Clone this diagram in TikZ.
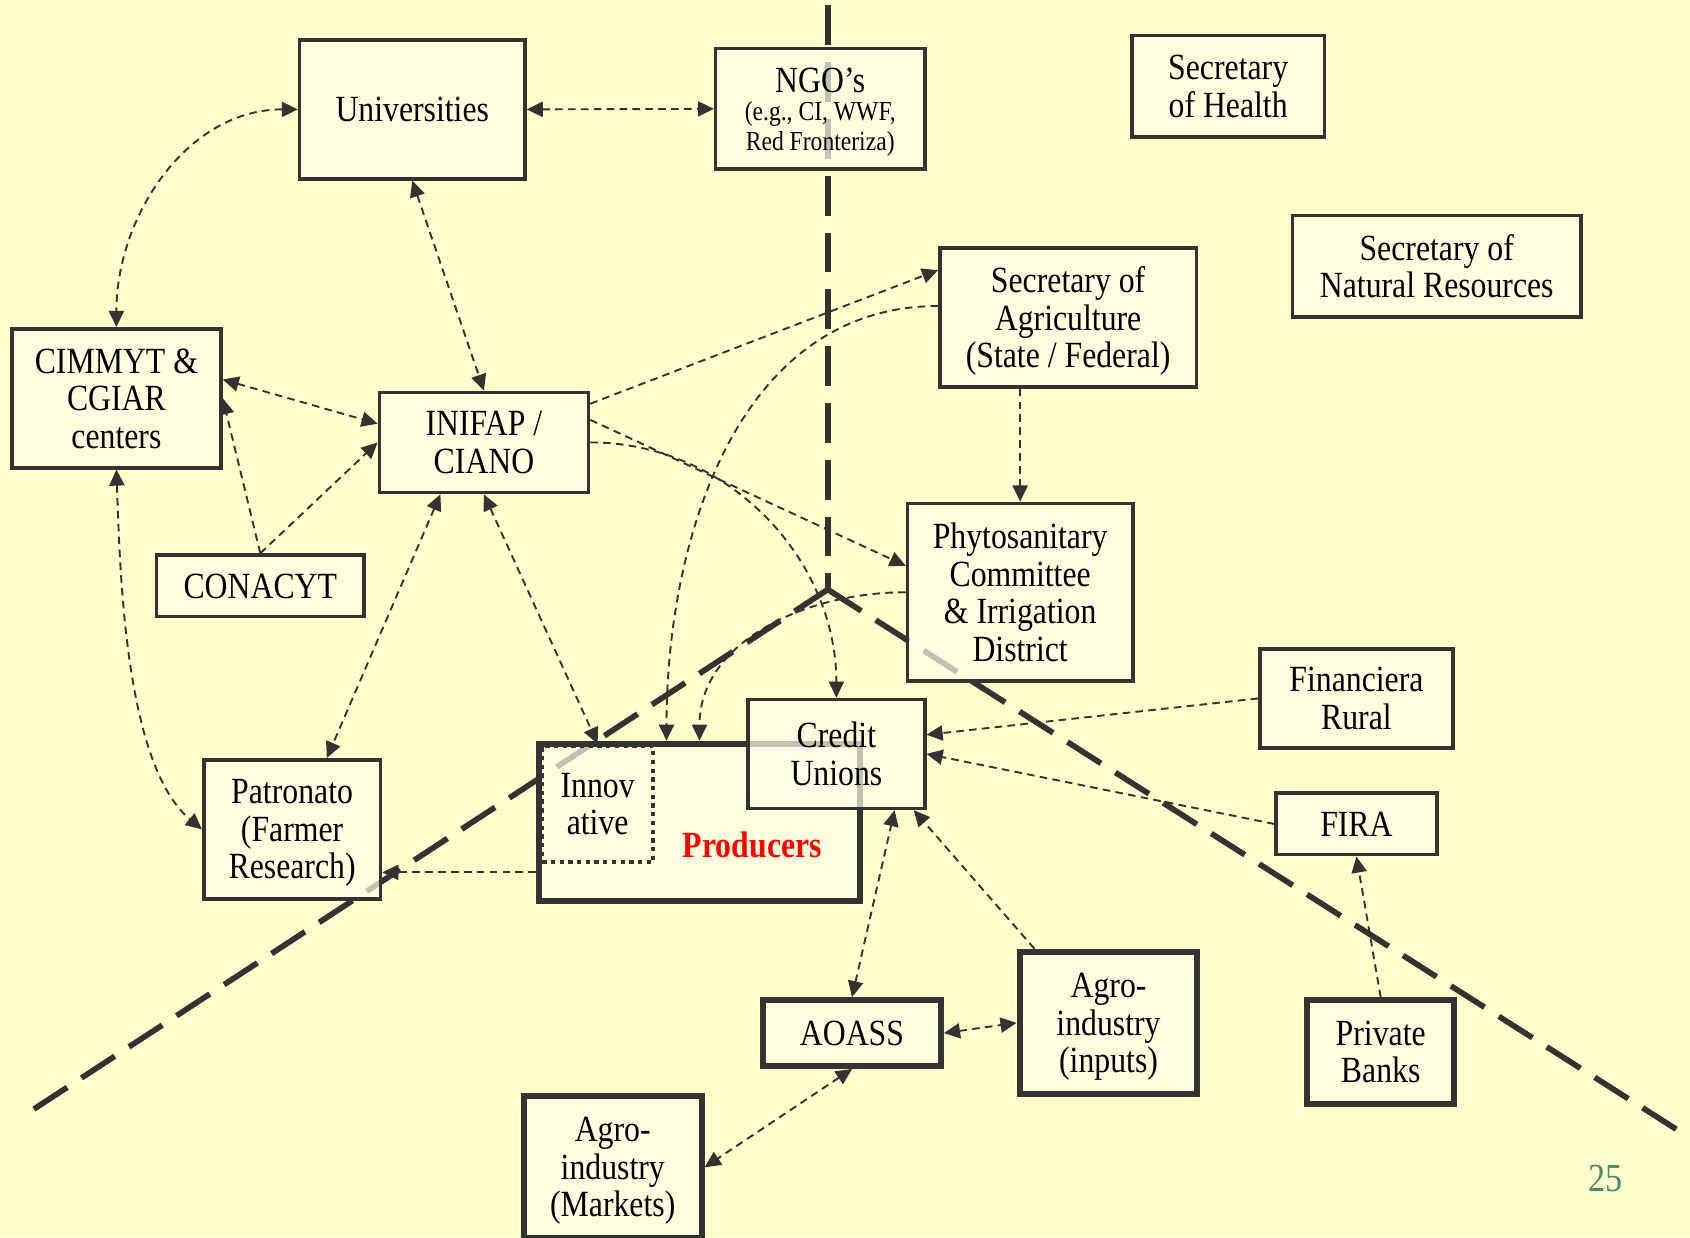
\documentclass[tikz,border=0pt]{standalone}
\usepackage{fontspec}
\setmainfont{Liberation Serif}[FakeStretch=0.86]
\usetikzlibrary{arrows.meta}
\definecolor{slidebg}{RGB}{255,255,204}
\definecolor{boxfill}{RGB}{255,255,232}
\definecolor{inkgray}{RGB}{51,51,51}
\definecolor{pagegreen}{RGB}{74,139,108}

\begin{document}
\begin{tikzpicture}[x=0.02cm, y=-0.02cm,
	actor/.style={draw=inkgray, line width=1.9pt, fill=boxfill, fill opacity=0.7, text opacity=1, align=center, inner sep=0pt, text depth=0pt, font=\fontsize{19.5}{19.8}\selectfont},
	heavy/.style={actor, line width=3.2pt},
	oneway/.style={inkgray, line width=1pt, dash pattern=on 4pt off 2.8pt, -{Triangle[length=8.5pt,width=8pt]}},
	twoway/.style={oneway, {Triangle[length=8.5pt,width=8pt]}-{Triangle[length=8.5pt,width=8pt]}},
	divide/.style={inkgray, line width=3pt, dash pattern=on 21pt off 9pt}]

	\useasboundingbox (0,0) rectangle (1568,1148);
	\fill[slidebg] (0,0) rectangle (1568,1148);

	\draw[divide] (768,5) -- (768,547);
	\draw[divide] (768,547) -- (30,1030);
	\draw[divide] (768,547) -- (1562,1052);

	\node[actor, minimum width=4.18cm, minimum height=2.58cm] (uni) at (382.5,101.5) {Universities};
	\node[actor, minimum width=3.88cm, minimum height=2.24cm] (ngo) at (761,101) {NGO’s\\[-5pt]{\fontsize{14.5}{15}\selectfont (e.g., CI, WWF,}\\[-4pt]{\fontsize{14.5}{15}\selectfont Red Fronteriza)}};
	\node[actor, minimum width=3.58cm, minimum height=1.88cm] (health) at (1139.5,80) {Secretary\\of Health};
	\node[actor, minimum width=5.36cm, minimum height=1.88cm] (natres) at (1333,247) {Secretary of\\Natural Resources};
	\node[actor, minimum width=4.76cm, minimum height=2.58cm] (secag) at (991,294.5) {Secretary of\\Agriculture\\(State / Federal)};
	\node[actor, minimum width=3.88cm, minimum height=2.58cm] (cimmyt) at (108,369.5) {CIMMYT \&\\CGIAR\\centers};
	\node[actor, minimum width=3.88cm, minimum height=1.86cm] (inifap) at (449,410.5) {INIFAP /\\CIANO};
	\node[actor, minimum width=3.86cm, minimum height=1.14cm] (conacyt) at (241.5,543.5) {CONACYT};
	\node[actor, minimum width=4.18cm, minimum height=3.3cm] (phyto) at (946.5,549.5) {Phytosanitary\\Committee\\\& Irrigation\\District};
	\node[actor, minimum width=3.58cm, minimum height=1.84cm] (finan) at (1258.5,648) {Financiera\\Rural};
	\node[heavy, minimum width=5.96cm, minimum height=2.92cm] (prod) at (649,763) {};
	\node[text=red, font=\bfseries\fontsize{19.5}{19.8}\selectfont] (prodname) at (698,784) {Producers};
	\node[draw=inkgray, line width=2.3pt, dash pattern=on 2.3pt off 2.3pt, minimum width=2.06cm, minimum height=2.16cm, inner sep=0pt, align=center, text depth=0pt, font=\fontsize{19.5}{19.8}\selectfont] (innov) at (554.5,746) {Innov\\ative};
	\node[actor, minimum width=3.28cm, minimum height=2.02cm] (credit) at (776,699.5) {Credit\\Unions};
	\node[actor, minimum width=3.28cm, minimum height=2.58cm] (patr) at (271,769.5) {Patronato\\(Farmer\\Research)};
	\node[actor, minimum width=2.98cm, minimum height=1.14cm] (fira) at (1258.5,764.5) {FIRA};
	\node[heavy, minimum width=3.3cm, minimum height=1.22cm] (aoass) at (790.5,958.5) {AOASS};
	\node[heavy, minimum width=3.3cm, minimum height=2.64cm] (agroin) at (1028.5,949) {Agro-\\industry\\(inputs)};
	\node[heavy, minimum width=2.72cm, minimum height=1.92cm] (banks) at (1281,976) {Private\\Banks};
	\node[heavy, minimum width=3.3cm, minimum height=2.64cm] (agromk) at (568.5,1083) {Agro-\\industry\\(Markets)};
	\node[text=pagegreen, font=\fontsize{21}{21}\selectfont] (pagenum) at (1490,1093) {25};

	\draw[twoway] (uni.east) -- (ngo.west);
	\draw[twoway] (uni.west) to[out=180, in=90] (cimmyt.north);
	\draw[twoway] (uni.south) -- (inifap.north);
	\draw[twoway] (cimmyt.10) -- (inifap.170);
	\draw[oneway] (conacyt.north) -- (cimmyt.east);
	\draw[oneway] (conacyt.north) -- (inifap.west);
	\draw[twoway] (cimmyt.south) to[out=-88, in=140, looseness=0.7] (patr.west);
	\draw[twoway] (inifap.230) -- (patr.64);
	\draw[twoway] (inifap.south) -- (innov.north);
	\draw[oneway] (inifap.20) -- (secag.160);
	\draw[oneway] (inifap.12) -- (phyto.167);
	\draw[oneway] (inifap.east) to[out=0, in=90] (credit.north);
	\draw[oneway] (secag.175) to[out=180, in=90] (prod.112);
	\draw[oneway] (secag.south -| phyto.north) -- (phyto.north);
	\draw[oneway] (phyto.west) to[out=180, in=90] (prod.north);
	\draw[oneway] (finan.west) -- (credit.12);
	\draw[oneway] (fira.west) -- (credit.east);
	\draw[oneway] (banks.north) -- (fira.south);
	\draw[oneway] (agroin.135) -- (credit.324);
	\draw[twoway] (aoass.north) -- (credit.316);
	\draw[twoway] (aoass.east) -- (agroin.west);
	\draw[twoway] (aoass.south) -- (agromk.east);
	\draw[oneway] (prod.197) -- (prod.197 -| patr.east);
\end{tikzpicture}
\end{document}
